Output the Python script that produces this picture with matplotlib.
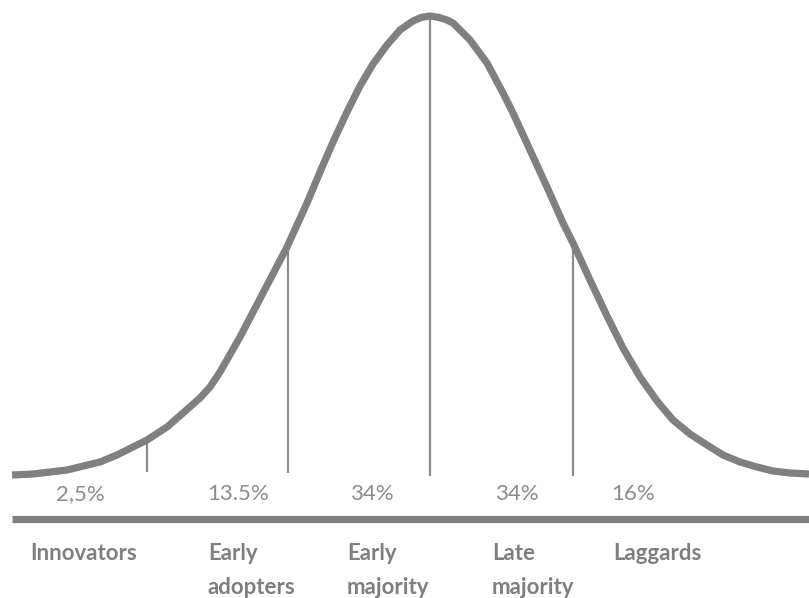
import numpy as np
import matplotlib
matplotlib.use("Agg")
import matplotlib.pyplot as plt

# bell curve (x to the right, y downwards)
curve_x = [12, 33, 67, 100, 117, 133, 147, 167, 183, 200, 210, 220, 240, 263,
           287, 307, 320, 333, 347, 360, 373, 387, 400, 413, 421, 430, 439,
           447, 453, 470, 487, 503, 513, 530, 547, 563, 573, 590, 607, 623,
           640, 657, 673, 690, 707, 723, 740, 757, 773, 790, 809]
curve_y = [475, 474, 470, 462, 455, 447, 440, 427, 413, 398, 387, 372, 337, 293,
           247, 203, 172, 142, 112, 86, 64, 45, 30, 21, 17.5, 16, 17.5,
           20, 23, 40, 63, 93, 113, 150, 187, 223, 243, 280, 316, 348,
           377, 401, 420, 434, 445, 455, 462, 467, 471, 473, 474]

# dividers between the groups
div_x = [147, 288, 430, 573]
div_top = [440, 247, 16, 243]
div_bottom = [472, 473, 476, 476]

shares = ["2,5%", "13.5%", "34%", "34%", "16%"]
share_x = [80, 238, 372, 517, 633]

groups = ["Innovators", "Early\nadopters", "Early\nmajority", "Late\nmajority", "Laggards"]
group_x = [30, 208, 347, 492, 613]

fig = plt.figure(figsize=(8.09, 5.98), dpi=100)
ax = fig.add_axes([0, 0, 1, 1])
ax.set_xlim(0, 809)
ax.set_ylim(598, 0)
ax.axis("off")

ax.vlines(div_x, div_top, div_bottom, color="#8c8c8c", lw=1.6)
ax.plot(curve_x, curve_y, color="#808080", lw=5.2, solid_joinstyle="round",
        solid_capstyle="butt")
ax.plot([12, 809], [518.5, 518.5], color="#808080", lw=5.2, solid_capstyle="butt")

for x, s in zip(share_x, shares):
    ax.text(x, 494, s, ha="center", va="center", fontsize=16, family="Lato",
            color="#8c8c8c")

for x, g in zip(group_x, groups):
    ax.text(x, 543, g, ha="left", va="top", fontsize=16, family="Lato",
            fontweight="bold", color="#7f7f7f", linespacing=1.75)

fig.savefig("out.png", dpi=100)
